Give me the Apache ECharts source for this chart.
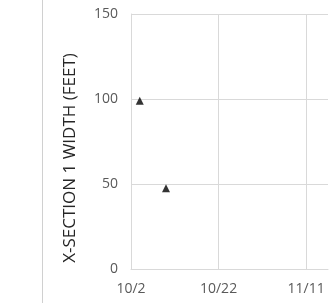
<!DOCTYPE html>
<html>
<head>
<meta charset="utf-8">
<script src="https://cdn.jsdelivr.net/npm/echarts@6/dist/echarts.min.js"></script>
<style>
  html, body { margin: 0; padding: 0; background: #fff; }
  #chart { width: 334px; height: 303px; }
</style>
</head>
<body>
<div id="chart"></div>
<script>
// survey dates (month/day) and measured widths
var startDate = '10/2'
var surveyDates = ['10/4', '10/10']
var widths = [99, 47.5]
var xTickLabels = ['10/2', '10/22', '11/11']
var yTicks = [0, 50, 100, 150]

// days since start date, same year
function dayOffset(md) {
  var a = md.split('/'), b = startDate.split('/')
  var d1 = new Date(2019, +a[0] - 1, +a[1])
  var d0 = new Date(2019, +b[0] - 1, +b[1])
  return Math.round((d1 - d0) / 86400000)
}

var points = surveyDates.map(function (d, i) { return [dayOffset(d), widths[i]] })

var chart = echarts.init(document.getElementById('chart'))
chart.setOption({
  animation: false,
  grid: { left: 131, right: 6, top: 14, bottom: 34 },
  graphic: [
    {
      type: 'line',
      shape: { x1: 42.5, y1: 0, x2: 42.5, y2: 303 },
      style: { stroke: '#d0d0d0', lineWidth: 1 }
    },
    {
      type: 'text',
      x: 70,
      y: 158,
      rotation: Math.PI / 2,
      style: {
        text: 'X-SECTION 1 WIDTH (FEET)',
        font: '17px "Open Sans"',
        fill: '#262626',
        align: 'center',
        verticalAlign: 'middle'
      }
    }
  ],
  xAxis: {
    type: 'value',
    min: 0,
    max: 45,
    interval: 20,
    axisLine: { show: true, lineStyle: { color: '#d9d9d9' } },
    axisTick: { show: false },
    splitLine: { show: true, showMaxLine: false, lineStyle: { color: '#d9d9d9' } },
    axisLabel: {
      showMaxLabel: false,
      color: '#595959',
      fontFamily: 'Open Sans',
      fontSize: 14,
      margin: 13,
      formatter: function (v) { return xTickLabels[v / 20] || '' }
    }
  },
  yAxis: {
    type: 'value',
    min: yTicks[0],
    max: yTicks[yTicks.length - 1],
    interval: 50,
    axisLine: { show: true, lineStyle: { color: '#d9d9d9' } },
    axisTick: { show: false },
    splitLine: { show: true, lineStyle: { color: '#d9d9d9' } },
    axisLabel: {
      color: '#595959',
      fontFamily: 'Open Sans',
      fontSize: 14,
      margin: 13
    }
  },
  series: [{
    type: 'scatter',
    symbol: 'triangle',
    symbolSize: 8,
    itemStyle: { color: '#000' },
    data: points
  }]
})
</script>
</body>
</html>
